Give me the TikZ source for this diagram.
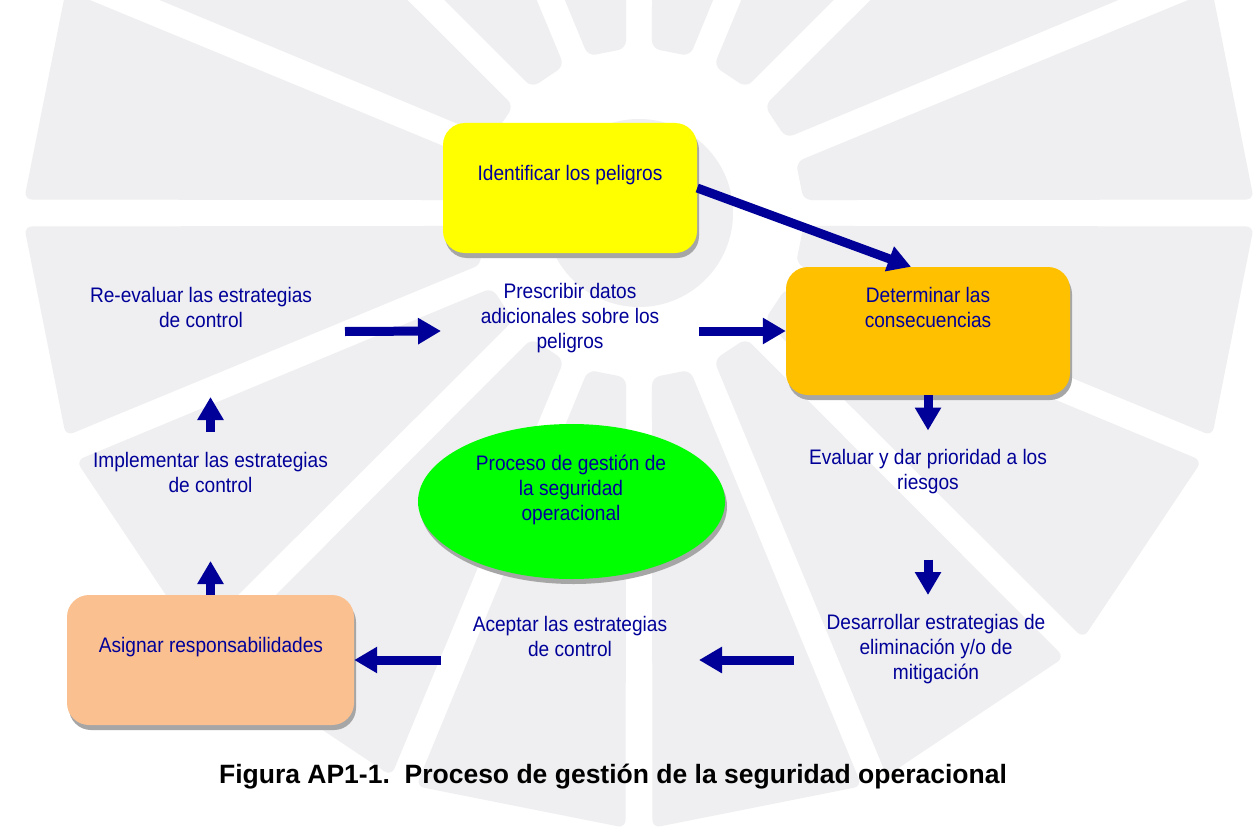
\documentclass[tikz,border=0pt]{standalone}
\usepackage{fontspec}
\setmainfont{Liberation Sans}
\newfontfamily\narrowfont{Liberation Sans}[FakeStretch=0.91]
\usepackage{tikz}
\usetikzlibrary{positioning, shapes.geometric, shadows, arrows.meta}
\definecolor{navy}{RGB}{0,0,153}
\definecolor{idyellow}{RGB}{255,255,0}
\definecolor{conorange}{RGB}{255,192,0}
\definecolor{asgpeach}{RGB}{250,192,144}
\definecolor{procgreen}{RGB}{0,255,0}
\definecolor{wmgray}{RGB}{239,239,241}
\tikzset{boxshadow/.style={drop shadow={shadow xshift=2pt, shadow yshift=-5pt, fill=black!35, opacity=1}}}
\tikzset{stepbox/.style={rectangle, rounded corners=22pt, boxshadow}}
\tikzset{steptext/.style={align=center, text=navy, inner sep=0pt, font={\narrowfont\fontsize{21}{25}\selectfont}}}
\tikzset{flow/.style={draw=navy, line width=9pt, -{Triangle[width=25pt,length=23pt]}}}

\begin{document}
\begin{tikzpicture}[x=1pt, y=-1pt]
    \fill[white] (0,0) rectangle (1257,832);
    \useasboundingbox (0,0) rectangle (1257,832);
    \begin{scope}
        \clip (0,0) rectangle (1257,832);
        \begin{scope}[shift={(639,213)}]
            \fill[wmgray] (0,0) circle (94pt);
            \foreach \a in {11.25, 33.75, ..., 360} {
                \fill[wmgray, rounded corners=8pt] (\a-6.75:165) -- (\a-10:615) -- (\a+10:615) -- (\a+6.75:165) -- cycle;
            }
        \end{scope}
    \end{scope}

    \node[stepbox, fill=idyellow, minimum width=254pt, minimum height=130pt] (ident) at (570,188) {};
    \node[stepbox, fill=conorange, minimum width=284pt, minimum height=128pt] (determ) at (928,331) {};
    \node[stepbox, fill=asgpeach, minimum width=287pt, minimum height=130pt] (asignar) at (210.5,660) {};
    \node[ellipse, fill=procgreen, boxshadow, minimum width=307pt, minimum height=155pt] (proc) at (571.5,501.5) {};

    \node[steptext] (identtxt) at (570,175) {Identificar los peligros};
    \node[steptext] (determtxt) at (928,307.5) {Determinar las\\consecuencias};
    \node[steptext] (asignartxt) at (211,647) {Asignar responsabilidades};
    \node[steptext] (proctxt) at (571,490) {Proceso de gestión de\\la seguridad\\operacional};

    \node[steptext] (reeval) at (201,307.5) {Re-evaluar las estrategias\\de control};
    \node[steptext] (prescr) at (570,318) {Prescribir datos\\adicionales sobre los\\peligros};
    \node[steptext] (implem) at (210.5,472) {Implementar las estrategias\\de control};
    \node[steptext] (aceptar) at (570,636.5) {Aceptar las estrategias\\de control};
    \node[steptext] (evaluar) at (928,471.5) {Evaluar y dar prioridad a los\\riesgos};
    \node[steptext] (desarr) at (936,649) {Desarrollar estrategias de\\eliminación y/o de\\mitigación};

    \draw[flow] (ident.east) -- ([shift={(-17,0)}]determ.north);
    \draw[flow] ([shift={(144,24)}]reeval.center) -- ([shift={(-129,13)}]prescr.center);
    \draw[flow] ([shift={(129,13)}]prescr.center) -- (determ.west);
    \draw[flow] (determ.south) -- ([shift={(0,-41)}]evaluar.center);
    \draw[flow] ([shift={(0,88)}]evaluar.center) -- ([shift={(-8,-54)}]desarr.center);
    \draw[flow] ([shift={(-142,11)}]desarr.center) -- ([shift={(129,23.5)}]aceptar.center);
    \draw[flow] ([shift={(-129,23.5)}]aceptar.center) -- (asignar.east);
    \draw[flow] (asignar.north) -- ([shift={(0,89)}]implem.center);
    \draw[flow] ([shift={(0,-40)}]implem.center) -- ([shift={(0,-75)}]implem.center);

    \node[font={\bfseries\fontsize{26.5}{30}\selectfont}] (caption) at (613,777) {Figura AP1-1.~~Proceso de gestión de la seguridad operacional};
\end{tikzpicture}
\end{document}
